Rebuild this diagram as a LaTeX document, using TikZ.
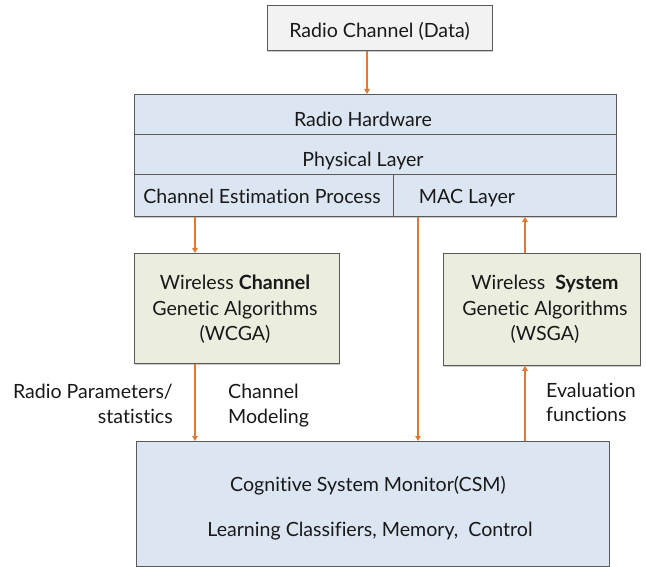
\documentclass[tikz,border=0pt]{standalone}
\usepackage{fontspec}
\setmainfont{Lato}[Ligatures=NoCommon]
\usetikzlibrary{arrows.meta,shadows}
\definecolor{layerblue}{HTML}{DCE6F2}
\definecolor{gagreen}{HTML}{EBEEDF}
\definecolor{topgray}{HTML}{F2F2F2}
\definecolor{edgegray}{HTML}{5A5A5A}
\definecolor{arr}{HTML}{DE7A36}
\begin{document}
\begin{tikzpicture}[x=1pt,y=-1pt,
  font=\fontsize{19.6}{23}\selectfont,
  box/.style={draw=edgegray, line width=0.9pt, inner sep=0pt, anchor=north west,
    drop shadow={shadow xshift=1pt, shadow yshift=-1.2pt, opacity=0.35, fill=black!60}},
  txt/.style={anchor=base, inner sep=0pt, text=black!90},
  flow/.style={draw=arr, line width=1.8pt, -{Triangle[width=5.5pt,length=5pt]}}
]
\useasboundingbox (0,0) rectangle (646,567);

% top box
\node[box, fill=topgray, minimum width=225pt, minimum height=45pt] (top) at (267,5) {};
\node[txt] (toptxt) at (379.5,38) {Radio Channel (Data)};

% layer stack
\node[box, fill=layerblue, minimum width=482pt, minimum height=40pt] (rh) at (134,94) {};
\node[box, fill=layerblue, minimum width=482pt, minimum height=40pt] (pl) at (134,134) {};
\node[box, fill=layerblue, minimum width=259pt, minimum height=42pt] (cep) at (134,174) {};
\node[box, fill=layerblue, minimum width=223pt, minimum height=42pt] (mac) at (393,174) {};
\node[txt] (rhtxt) at (363,127) {Radio Hardware};
\node[txt] (pltxt) at (363,167) {Physical Layer};
\node[txt] (ceptxt) at (262,204) {Channel Estimation Process};
\node[txt] (mactxt) at (467,204) {MAC Layer};

% GA boxes
\node[box, fill=gagreen, minimum width=205pt, minimum height=110pt] (wcga) at (134,253) {};
\node[box, fill=gagreen, minimum width=197pt, minimum height=112pt] (wsga) at (443,253) {};
\node[txt] (wc1) at (235,290) {Wireless \textbf{Channel}};
\node[txt] (wc2) at (235,315) {Genetic Algorithms};
\node[txt] (wc3) at (235,340) {(WCGA)};
\node[txt] (ws1) at (545,290) {Wireless\ \ \textbf{System}};
\node[txt] (ws2) at (545,315) {Genetic Algorithms};
\node[txt] (ws3) at (545,340) {(WSGA)};

% CSM
\node[box, fill=layerblue, minimum width=473pt, minimum height=125pt] (csm) at (136,441) {};
\node[txt] (csm1) at (368,491) {Cognitive System Monitor(CSM)};
\node[txt] (csm2) at (370,536) {Learning Classifiers, Memory,\ \ Control};

% edge labels
\node[txt, anchor=base east] (rp1) at (173,398) {Radio Parameters/};
\node[txt, anchor=base east] (rp2) at (173,423) {statistics};
\node[txt, anchor=base west] (cm1) at (228,398) {Channel};
\node[txt, anchor=base west] (cm2) at (228,423) {Modeling};
\node[txt, anchor=base west] (ev1) at (546,397) {Evaluation};
\node[txt, anchor=base west] (ev2) at (546,421) {functions};

% x positions of connectors
\coordinate (xa) at (367,0);
\coordinate (xb) at (195,0);
\coordinate (xc) at (418,0);
\coordinate (xd) at (525,0);

\draw[flow] (top.south -| xa) -- (rh.north -| xa);
\draw[flow] (cep.south -| xb) -- (wcga.north -| xb);
\draw[flow] (wcga.south -| xb) -- (csm.north -| xb);
\draw[flow] (mac.south -| xc) -- (csm.north -| xc);
\draw[flow] (wsga.north -| xd) -- (mac.south -| xd);
\draw[flow] (csm.north -| xd) -- (wsga.south -| xd);
\end{tikzpicture}
\end{document}
